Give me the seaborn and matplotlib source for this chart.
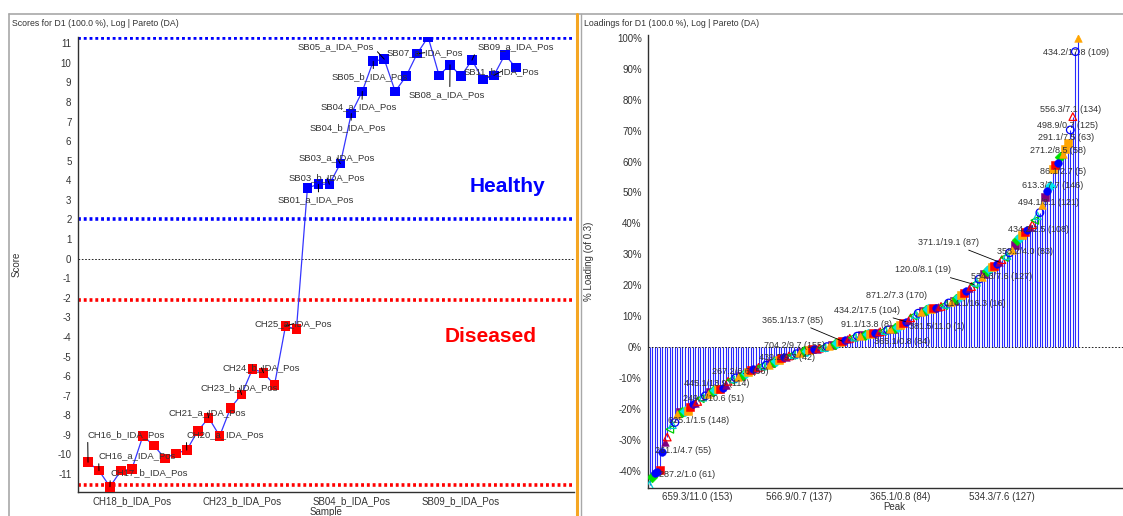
import matplotlib
matplotlib.use("Agg")
import matplotlib.pyplot as plt
import matplotlib.lines as mlines
from matplotlib.ticker import FixedLocator, MultipleLocator, FuncFormatter
import numpy as np
import pandas as pd
import seaborn as sns

sns.set_style("white")
plt.rcParams['font.family'] = ['Liberation Sans', 'DejaVu Sans']
plt.rcParams['axes.unicode_minus'] = False

# ---- scores (left panel) ----
samples = [
    "CH16_b", "CH16_a", "CH17_b", "CH17_a", "CH18_b", "CH18_a", "CH19_b", "CH19_a",
    "CH20_b", "CH20_a", "CH21_b", "CH21_a", "CH22_b", "CH22_a", "CH23_b", "CH23_a",
    "CH24_b", "CH24_a", "CH25_a", "CH25_b",
    "SB01_b", "SB01_a", "SB03_b", "SB03_a", "SB04_b", "SB04_a", "SB05_b", "SB05_a",
    "SB06_b", "SB06_a", "SB07_a", "SB07_b", "SB08_b", "SB08_a", "SB09_b", "SB09_a",
    "SB10_b", "SB11_b", "SB10_a", "SB11_a",
]
samples = [s + "_IDA_Pos" for s in samples]
scores = [
    -10.4, -10.83, -11.65, -10.83, -10.75, -9.06, -9.54, -10.2, -9.95, -9.78,
    -8.81, -8.13, -9.06, -7.62, -6.94, -5.63, -5.83, -6.45, -3.45, -3.6,
    3.61, 3.8, 3.8, 4.85, 7.41, 8.54, 10.08, 10.19, 8.54, 9.32,
    10.47, 11.32, 9.36, 9.9, 9.32, 10.14, 9.15, 9.36, 10.41, 9.76,
]
groups = ["Diseased"] * 20 + ["Healthy"] * 20
healthy_limits = [2.0, 11.27]
diseased_limits = [-2.13, -11.58]
sample_ticks = [4, 14, 24, 34]

# labelled samples: (index, label x, label y)
score_labels = [
    (0, 3.5, -8.99), (1, 4.5, -10.08), (2, 5.56, -10.95), (9, 12.5, -9.0),
    (11, 10.9, -7.87), (14, 13.8, -6.61), (16, 15.8, -5.57), (18, 18.75, -3.32),
    (21, 20.8, 3.01), (22, 21.8, 4.12), (23, 22.7, 5.14), (24, 23.7, 6.67),
    (25, 24.7, 7.74), (26, 25.66, 9.31), (27, 22.6, 10.84), (30, 30.7, 10.52),
    (33, 32.7, 8.39), (35, 38.96, 10.81), (37, 37.7, 9.57),
]
# where on the label box the leader line starts
leader_anchor = {0: (0, 0), 1: (0, 0), 2: (0, 0), 9: (0, 0), 27: (1, 0.3),
                 35: (0, 0.3), 21: (0.53, 1), 24: (0.54, 1), 25: (0.54, 1),
                 26: (0.55, 1), 33: (0.54, 1)}

# ---- loadings (right panel), % of 0.3, sorted ----
loadings = [
    -44.5, -42.0, -40.6, -40.2, -39.8, -33.7, -30.5, -29.0, -26.5, -25.0,
    -24.3, -21.5, -21.0, -20.8, -20.7, -20.5, -19.3, -18.4, -18.0, -17.5,
    -16.6, -16.1, -15.7, -15.2, -14.6, -14.1, -13.8, -13.6, -13.5, -13.3,
    -12.2, -11.0, -10.6, -10.2, -9.9, -9.6, -9.3, -9.0, -8.4, -7.9,
    -7.4, -7.0, -6.8, -6.5, -6.2, -6.0, -5.8, -5.6, -5.2, -4.8,
    -4.4, -4.0, -3.6, -3.2, -3.0, -2.8, -2.6, -2.4, -2.1, -1.8,
    -1.5, -1.3, -1.1, -0.9, -0.7, -0.6, -0.4, -0.3, -0.2, -0.1,
    0.2, 0.5, 0.8, 1.1, 1.4, 1.7, 2.0, 2.4, 2.7, 2.9,
    3.1, 3.3, 3.6, 3.8, 4.0, 4.1, 4.3, 4.4, 4.5, 4.7,
    4.9, 5.0, 5.2, 5.4, 5.6, 5.8, 6.0, 6.3, 6.7, 7.2,
    7.8, 8.3, 8.9, 9.5, 10.1, 10.6, 11.0, 11.4, 11.8, 12.0,
    12.2, 12.4, 12.6, 12.8, 13.0, 13.2, 13.5, 13.9, 14.3, 14.6,
    15.1, 15.6, 16.2, 16.9, 17.6, 18.3, 19.0, 19.6, 20.3, 21.0,
    22.0, 22.8, 23.6, 24.6, 25.2, 25.8, 26.3, 26.9, 27.5, 28.3,
    29.0, 29.6, 30.5, 31.5, 33.0, 34.5, 35.5, 36.4, 37.2, 38.0,
    38.8, 39.6, 41.0, 42.5, 43.5, 46.0, 48.6, 50.5, 52.0, 57.5,
    58.8, 59.6, 61.5, 62.5, 64.0, 66.0, 70.2, 74.5, 95.5, 100.0,
]
peak_ticks = [19, 59, 99, 139]
peak_tick_labels = ["659.3/11.0 (153)", "566.9/0.7 (137)", "365.1/0.8 (84)", "534.3/7.6 (127)"]

# peak labels: (text, label x, label y, leader-to index or None)
peak_labels = [
    ("434.2/17.8 (109)", 168.1, 95.3, None), ("556.3/7.1 (134)", 166.2, 76.9, None),
    ("498.9/0.7 (125)", 165.0, 71.5, None), ("291.1/7.5 (63)", 164.3, 67.7, None),
    ("271.2/8.5 (58)", 161.0, 63.7, None), ("86.1/2.7 (5)", 163.2, 56.7, None),
    ("613.3/7.7 (146)", 158.9, 52.4, None), ("494.1/8.1 (121)", 157.3, 46.7, None),
    ("434.2/2.5 (108)", 153.6, 37.9, None), ("358.2/4.0 (83)", 148.1, 30.9, None),
    ("371.1/19.1 (87)", 118.1, 33.9, 138), ("120.0/8.1 (19)", 108.0, 25.0, 128),
    ("534.3/7.6 (127)", 138.9, 22.8, None), ("871.2/7.3 (170)", 97.5, 16.6, None),
    ("114.1/16.3 (16)", 128.4, 14.2, None), ("434.2/17.5 (104)", 85.7, 12.0, 101),
    ("91.1/13.8 (8)", 85.7, 7.2, None), ("381.5/11.0 (1)", 113.3, 6.7, None),
    ("365.1/0.8 (84)", 99.5, 1.8, None), ("365.1/13.7 (85)", 56.3, 8.8, 76),
    ("704.2/9.7 (155)", 57.3, 0.7, None), ("439.2/9.7 (42)", 54.1, -3.2, None),
    ("267.2/6.6 (56)", 35.7, -7.9, None), ("445.1/13.9 (114)", 26.5, -11.6, None),
    ("249.1/10.6 (51)", 25.2, -16.5, None), ("625.1/1.5 (148)", 19.3, -23.7, None),
    ("261.1/4.7 (55)", 13.3, -33.2, None), ("287.2/1.0 (61)", 14.7, -41.2, None),
]

# marker look for the peak points: (colour, marker, filled)
marker_cycle = [
    ("#800080", "s", True), ("#00E000", "D", True), ("#00E5EE", "D", True),
    ("#FFA500", "s", True), ("#FF0000", "s", True), ("#0000FF", "o", True),
    ("#800080", "^", True), ("#FF0000", "^", False), ("#00CC00", "<", False),
    ("#00CCCC", "^", False), ("#0000FF", "o", False), ("#FFA500", "^", True),
]
marker_override = {169: 11, 168: 10, 167: 7, 166: 10, 165: 3, 164: 3, 163: 11,
                   162: 1, 157: 5, 0: 9, 2: 5, 3: 5}

text_col = "#333333"
W, H = 1123, 516
fig = plt.figure(figsize=(W / 100, H / 100), dpi=100)

# ================= left: scores =================
ax1 = fig.add_axes([77.7 / W, 1 - 492 / H, (574 - 77.7) / W, (492 - 37) / H])
df_s = pd.DataFrame({"idx": np.arange(len(scores)), "score": scores,
                     "group": groups, "sample": samples})
sns.lineplot(data=df_s, x="idx", y="score", color="#3535ff", lw=0.9, sort=False,
             ax=ax1, zorder=2)
sns.scatterplot(data=df_s, x="idx", y="score", hue="group",
                palette={"Diseased": "#ff0000", "Healthy": "#0000ff"},
                marker="s", s=48, linewidth=0, legend=False, ax=ax1, zorder=3)
for v in healthy_limits:
    ax1.axhline(v, color="#0000ff", lw=2.6, ls=(0, (0.8, 0.8)), zorder=1)
for v in diseased_limits:
    ax1.axhline(v, color="#ff0000", lw=2.6, ls=(0, (0.8, 0.8)), zorder=1)
ax1.axhline(0, color="black", lw=0.6, ls=(0, (2, 2)), zorder=1)

for i, tx, ty in score_labels:
    ax1.annotate(samples[i], xy=(i, scores[i]), xytext=(tx, ty), ha="center",
                 va="center", fontsize=6.8, color=text_col, zorder=4,
                 arrowprops=dict(arrowstyle="-", color="black", lw=0.7,
                                 shrinkA=0, shrinkB=0,
                                 relpos=leader_anchor.get(i, (0.5, 0.5))))
ax1.text(38.2, 3.69, "Healthy", color="#0000ff", fontsize=15, fontweight="bold",
         ha="center", va="center")
ax1.text(36.7, -3.97, "Diseased", color="#ff0000", fontsize=15, fontweight="bold",
         ha="center", va="center")

ax1.set_xlim(-0.94, 44.3)
ax1.set_ylim(-11.92, 11.32)
ax1.yaxis.set_major_locator(FixedLocator(range(-11, 12)))
ax1.yaxis.set_minor_locator(MultipleLocator(0.5))
ax1.yaxis.set_major_formatter(FuncFormatter(lambda v, p: f"{int(round(v))}"))
ax1.xaxis.set_major_locator(FixedLocator(sample_ticks))
ax1.set_xticklabels([samples[i] for i in sample_ticks])
ax1.set_xlabel("Sample", fontsize=7, labelpad=0, color=text_col)
ax1.set_ylabel("Score", fontsize=7, color=text_col)
ax1.yaxis.set_label_coords(-0.113, 0.5)

# ================= right: loadings =================
ax2 = fig.add_axes([648 / W, 1 - 487.5 / H, (1140 - 648) / W, (487.5 - 34.6) / H])
peak_idx = np.arange(len(loadings))
ax2.vlines(peak_idx, 0, loadings, color="#2a2aff", lw=0.8, zorder=1)
ax2.axhline(0, color="black", lw=0.6, ls=(0, (2, 2)), zorder=1)

style_id = [marker_override.get(i, i % len(marker_cycle)) for i in peak_idx]
df_l = pd.DataFrame({"idx": peak_idx, "loading": loadings, "style": style_id})
for k, (col, mk, filled) in enumerate(marker_cycle):
    sub = df_l[df_l["style"] == k]
    if sub.empty:
        continue
    if filled:
        sns.scatterplot(data=sub, x="idx", y="loading", marker=mk, s=30,
                        color=col, edgecolor=col, linewidth=0.4, ax=ax2,
                        legend=False, zorder=3)
    else:
        sns.scatterplot(data=sub, x="idx", y="loading", marker=mk, s=30,
                        color=col, facecolor="none", edgecolor=col, linewidth=0.9,
                        ax=ax2, legend=False, zorder=3)

for txt, tx, ty, target in peak_labels:
    if target is None:
        ax2.text(tx, ty, txt, fontsize=6.5, color=text_col, ha="center",
                 va="center", zorder=4)
    else:
        ax2.annotate(txt, xy=(target, loadings[target]), xytext=(tx, ty),
                     ha="center", va="center", fontsize=6.5, color=text_col, zorder=4,
                     arrowprops=dict(arrowstyle="-", color="black", lw=0.6,
                                     shrinkA=0, shrinkB=0))

ax2.set_xlim(-0.6, 193.5)
ax2.set_ylim(-45.3, 101)
ax2.yaxis.set_major_locator(MultipleLocator(10))
ax2.yaxis.set_minor_locator(MultipleLocator(5))
ax2.yaxis.set_major_formatter(FuncFormatter(lambda v, p: f"{int(round(v))}%"))
ax2.xaxis.set_major_locator(FixedLocator(peak_ticks))
ax2.xaxis.set_minor_locator(FixedLocator(range(-1, 194, 10)))
ax2.set_xticklabels(peak_tick_labels)
ax2.set_xlabel("Peak", fontsize=7, labelpad=0, color=text_col)
ax2.set_ylabel("% Loading (of 0.3)", fontsize=7, color=text_col)
ax2.yaxis.set_label_coords(-0.11, 0.5)

for ax in (ax1, ax2):
    sns.despine(ax=ax, top=True, right=True)
    for s in ("left", "bottom"):
        ax.spines[s].set_color("#303030")
        ax.spines[s].set_linewidth(1.0)
    ax.tick_params(which="major", length=3, width=0.8, color="#303030",
                   labelsize=7, labelcolor=text_col, pad=1.5)
    ax.tick_params(axis="x", which="major", length=2.5, pad=0.8)
    ax.tick_params(which="minor", length=2, width=0.6, color="#303030")
    ax.set_facecolor("white")

# panel titles and frames
fig.text(12 / W, 1 - 23 / H, "Scores for D1 (100.0 %), Log | Pareto (DA)",
         fontsize=6.3, color=text_col, ha="left", va="center")
fig.text(584 / W, 1 - 23 / H, "Loadings for D1 (100.0 %), Log | Pareto (DA)",
         fontsize=6.3, color=text_col, ha="left", va="center")
top_y = 1 - 14 / H
fig.add_artist(mlines.Line2D([9 / W, 1], [top_y, top_y], color="#a8a8a8", lw=1.2))
fig.add_artist(mlines.Line2D([9 / W, 9 / W], [0, top_y], color="#a8a8a8", lw=1.2))
fig.add_artist(mlines.Line2D([576.5 / W, 576.5 / W], [0, top_y], color="#F5A623", lw=2.2))
fig.add_artist(mlines.Line2D([580.5 / W, 580.5 / W], [0, top_y], color="#a8a8a8", lw=1.0))

fig.savefig("out.png", dpi=100, facecolor="white")
